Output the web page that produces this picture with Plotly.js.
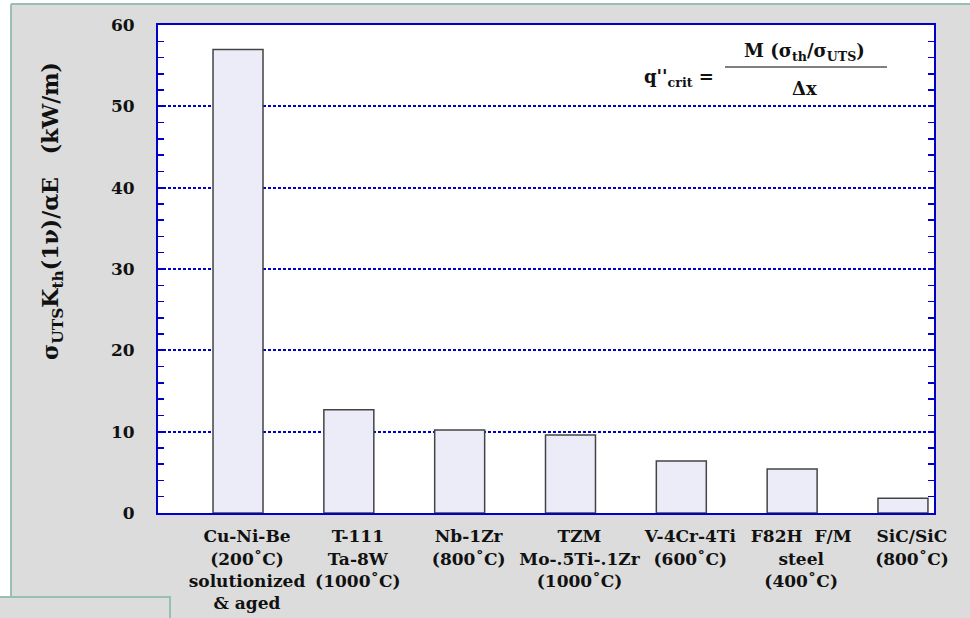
<!DOCTYPE html>
<html><head><meta charset="utf-8">
<script src="https://cdn.plot.ly/plotly-3.0.1.min.js"></script>
<style>html,body{margin:0;padding:0;background:#fff}#chart{width:970px;height:618px}</style>
</head><body><div id="chart"></div>
<script>
// Categories (tick labels)
const materials = [
  "Cu-Ni-Be<br>(200˚C)<br>solutionized<br>& aged",
  "T-111<br>Ta-8W<br>(1000˚C)",
  "Nb-1Zr<br>(800˚C)",
  "TZM<br>Mo-.5Ti-.1Zr<br>(1000˚C)",
  "V-4Cr-4Ti<br>(600˚C)",
  "F82H\u00a0 F/M<br>steel<br>(400˚C)",
  "SiC/SiC<br>(800˚C)"
];
// Values: sigma_UTS K_th (1-nu)/alpha E  (kW/m)
const values = [57.0, 12.7, 10.2, 9.6, 6.4, 5.4, 1.8];
const yTickVals = [0, 10, 20, 30, 40, 50, 60];

const BLUE = '#0000cc';
const TEAL = '#98c0b0';
const GRAY = '#dcdcdc';
const FONT = 'DejaVu Serif';

const trace = {
  type: 'bar',
  x: materials,
  y: values,
  width: 0.451,
  marker: {color: '#ececf8', line: {color: '#444444', width: 1.5}},
  hoverinfo: 'skip'
};

const layout = {
  width: 970, height: 618,
  margin: {l: 158, r: 36, t: 25, b: 105},
  paper_bgcolor: GRAY,
  plot_bgcolor: '#ffffff',
  showlegend: false,
  font: {family: FONT, color: '#111', weight: 'bold'},
  xaxis: {
    type: 'category',
    range: [-0.722, 6.28],
    showline: true, linecolor: BLUE, linewidth: 2, mirror: true,
    ticks: '', showgrid: false, zeroline: false,
    tickfont: {family: FONT, size: 17, color: '#111', weight: 'bold'},
    ticklabelshift: 9,
    ticklabelstandoff: 7
  },
  yaxis: {
    range: [0, 60],
    tickvals: yTickVals,
    ticktext: yTickVals.map(String),
    showline: true, linecolor: BLUE, linewidth: 2, mirror: 'ticks',
    ticks: 'inside', ticklen: 6, tickwidth: 2, tickcolor: BLUE,
    showgrid: true, gridcolor: BLUE, gridwidth: 2, griddash: '3px,2px',
    zeroline: false,
    minor: {dtick: 2, ticks: 'inside', ticklen: 6, tickwidth: 1.5, tickcolor: BLUE, showgrid: false},
    tickfont: {family: FONT, size: 17, color: '#111', weight: 'bold'},
    ticklabelstandoff: 18
  },
  shapes: [
    // white strips outside the slide area
    {type: 'rect', xref: 'paper', yref: 'paper', x0: -0.2036, x1: -0.1894, y0: -0.2152, y1: 1.0512, fillcolor: '#ffffff', line: {width: 0}, layer: 'above'},
    {type: 'rect', xref: 'paper', yref: 'paper', x0: -0.2036, x1: 1.0464, y0: 1.043, y1: 1.0512, fillcolor: '#ffffff', line: {width: 0}, layer: 'above'},
    // teal border lines
    {type: 'line', xref: 'paper', yref: 'paper', x0: -0.1894, x1: 1.0464, y0: 1.043, y1: 1.043, line: {color: TEAL, width: 2}, layer: 'above'},
    {type: 'line', xref: 'paper', yref: 'paper', x0: -0.1894, x1: -0.1894, y0: -0.1721, y1: 1.043, line: {color: TEAL, width: 2}, layer: 'above'},
    // bottom-left box
    {type: 'rect', xref: 'paper', yref: 'paper', x0: -0.2060, x1: 0.01546, y0: -0.2200, y1: -0.1721, fillcolor: GRAY, line: {color: TEAL, width: 2}, layer: 'above'},
    // fraction bar of formula
    {type: 'line', xref: 'paper', yref: 'paper', x0: 0.7307, x1: 0.9394, y0: 0.9139, y1: 0.9139, line: {color: '#555555', width: 1.5}}
  ],
  annotations: [
    {xref: 'paper', yref: 'paper', x: -0.1366, y: 0.619, textangle: -90, showarrow: false,
     xanchor: 'center', yanchor: 'middle',
     text: 'σ<sub>UTS</sub>K<sub>th</sub>(1ν)/αE\u00a0\u00a0\u00a0(kW/m)',
     font: {family: FONT, size: 22, color: '#111', weight: 'bold'}},
    {xref: 'paper', yref: 'paper', x: 0.671, y: 0.891, showarrow: false, xanchor: 'center', yanchor: 'middle',
     text: "q''<sub>crit</sub> =", font: {family: FONT, size: 18, color: '#111', weight: 'bold'}},
    {xref: 'paper', yref: 'paper', x: 0.8325, y: 0.9447, showarrow: false, xanchor: 'center', yanchor: 'middle',
     text: 'M (σ<sub>th</sub>/σ<sub>UTS</sub>)', font: {family: FONT, size: 18, color: '#111', weight: 'bold'}},
    {xref: 'paper', yref: 'paper', x: 0.8325, y: 0.8689, showarrow: false, xanchor: 'center', yanchor: 'middle',
     text: 'Δx', font: {family: FONT, size: 18, color: '#111', weight: 'bold'}}
  ]
};

Plotly.newPlot('chart', [trace], layout, {displayModeBar: false, staticPlot: true});
</script>
</body></html>
